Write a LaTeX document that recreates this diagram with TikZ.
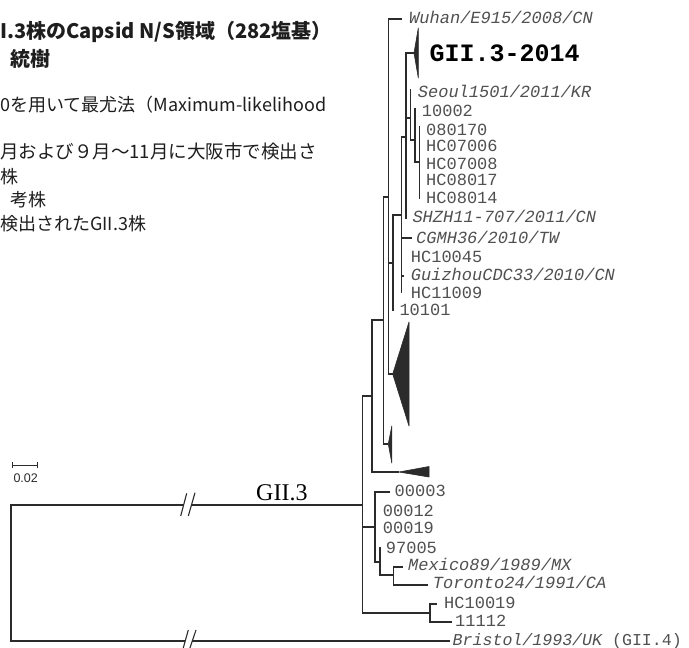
\documentclass[tikz,border=0pt]{standalone}
\usepackage{fontspec}
\setmainfont{Liberation Serif}
\setsansfont{Liberation Sans}
\setmonofont{Liberation Mono}
\newfontfamily\jpfont{Noto Sans CJK JP}
\definecolor{treeline}{HTML}{2B2B2B}
\definecolor{labgray}{HTML}{505050}
\definecolor{headtext}{HTML}{1E1E1E}
\tikzset{
  br/.style={line width=1.2pt, draw=treeline},
  clade/.style={fill=treeline, draw=treeline, line width=0.6pt, line join=round},
  lab/.style={anchor=base west, inner sep=0pt, text=labgray, font=\ttfamily\fontsize{17}{17}\selectfont},
  labit/.style={lab, font=\ttfamily\itshape\fontsize{17}{17}\selectfont},
  jp/.style={anchor=base west, inner sep=0pt, text=headtext, font=\jpfont\fontsize{18}{18}\selectfont},
  jpb/.style={anchor=base west, inner sep=0pt, text=headtext, font=\jpfont\bfseries\fontsize{20}{20}\selectfont},
  brk/.style={line width=1.1pt, draw=treeline},
}
\begin{document}
\begin{tikzpicture}[x=1pt,y=-1pt]
\useasboundingbox[fill=white] (0,0) rectangle (689,648);

% ---------- header text ----------
\node[jpb] (h1) at (0,38.6) {I.3株のCapsid N/S領域（282塩基）};
\node[jpb] (h2) at (10,66.6) {統樹};
\node[jp] (h3) at (0,111.8) {0を用いて最尤法（Maximum-likelihood};
\node[jp, font=\jpfont\fontsize{18.5}{18.5}\selectfont] (h4) at (0,158.5) {月および９月〜11月に大阪市で検出さ};
\node[jp] (h5) at (0,183.5) {株};
\node[jp] (h6) at (10,206.8) {考株};
\node[jp] (h7) at (0,230.8) {検出されたGII.3株};

% ---------- scale bar ----------
\coordinate (sbL) at (12.7,465);
\coordinate (sbR) at (37.3,465);
\draw[line width=0.8pt, draw=treeline] (sbL) -- (sbR);
\draw[line width=0.8pt, draw=treeline] ([yshift=-3pt]sbL) -- ([yshift=3pt]sbL);
\draw[line width=0.8pt, draw=treeline] ([yshift=-3pt]sbR) -- ([yshift=3pt]sbR);
\node[anchor=base west, inner sep=0pt, font=\sffamily\fontsize{12.5}{12.5}\selectfont, text=treeline] (sblab) at (13.3,482) {0.02};

% ---------- internal nodes (x, stem y) ----------
\coordinate (root) at (11,573);
\coordinate (N362) at (362.7,505);
\coordinate (N372) at (372,396);
\coordinate (N383) at (383.3,320);
\coordinate (N388) at (388.3,197);
\coordinate (N393) at (393,263);
\coordinate (N402) at (401.7,215);
\coordinate (N406) at (406,137);
\coordinate (N411) at (410.7,118);
\coordinate (N415) at (415,140);
\coordinate (N419) at (419.3,162);
\coordinate (N375) at (375,527);
\coordinate (N380) at (380,562);
\coordinate (N393b) at (393.3,575);
\coordinate (N430) at (430,613);

% ---------- leaf end points ----------
\coordinate (wuhanE) at (401.7,19);
\coordinate (gApex) at (414,53);
\coordinate (seoulE) at (410.7,89);
\coordinate (l10002E) at (415,108);
\coordinate (l080170E) at (419.3,126);
\coordinate (hc08014E) at (419.3,199);
\coordinate (shzhE) at (406,219);
\coordinate (cgmhE) at (411.7,238);
\coordinate (guizE) at (404,276);
\coordinate (hc11009E) at (401.7,293);
\coordinate (l10101E) at (393,311);
\coordinate (bigApex) at (392.7,374);
\coordinate (smApex) at (388.3,444);
\coordinate (botApex) at (399,472);
\coordinate (l00003E) at (390,492);
\coordinate (l97005E) at (380,547);
\coordinate (mexE) at (403,567);
\coordinate (torE) at (428,585);
\coordinate (hc10019E) at (437,604);
\coordinate (l11112E) at (452,622);
\coordinate (bristolE) at (450,641);

% ---------- branches ----------
\draw[br] (root) |- (N362);
\draw[br] (root) |- (bristolE);
\draw[br] (N362) |- (N372);
\draw[br] (N362) |- (N375);
\draw[br] (N362) |- (N430);
\draw[br] (N372) |- (N383);
\draw[br] (N372) |- (botApex);
\draw[br] (N383) |- (N388);
\draw[br] (N383) |- (smApex);
\draw[br] (N388) |- (wuhanE);
\draw[br] (N388) |- (N393);
\draw[br] (N388) |- (bigApex);
\draw[br] (N393) |- (N402);
\draw[br] (N393) |- (l10101E);
\draw[br] (N402) |- (N406);
\draw[br] (N402) |- (cgmhE);
\draw[br] (N402) |- (guizE);
\draw[br] (N402) |- (hc11009E);
\draw[br] (N406) |- (gApex);
\draw[br] (N406) |- (N411);
\draw[br] (N406) |- (shzhE);
\draw[br] (N411) |- (seoulE);
\draw[br] (N411) |- (N415);
\draw[br] (N415) |- (l10002E);
\draw[br] (N415) |- (N419);
\draw[br] (N419) |- (l080170E);
\draw[br] (N419) |- (hc08014E);
\draw[br] (N375) |- (l00003E);
\draw[br] (N375) |- (N380);
\draw[br] (N380) |- (l97005E);
\draw[br] (N380) |- (N393b);
\draw[br] (N393b) |- (mexE);
\draw[br] (N393b) |- (torE);
\draw[br] (N430) |- (hc10019E);
\draw[br] (N430) |- (l11112E);

% ---------- collapsed clades ----------
\fill[clade] (gApex) -- (418.3,28) -- (418.3,78) -- cycle;
\fill[clade] (bigApex) -- (409,322) -- (409,426) -- cycle;
\fill[clade] (smApex) -- (391.8,426) -- (391.8,463) -- cycle;
\fill[clade] (botApex) -- (429,466.5) -- (429,477) -- cycle;

% ---------- breaks ----------
\fill[white] (180.7,516) -- (186.7,493.3) -- (195,492.7) -- (188.3,516) -- cycle;
\draw[brk] (180.7,516) -- (186.7,493.3);
\draw[brk] (188.3,516) -- (195,492.7);
\fill[white] (182.7,650) -- (188.3,630) -- (196,630) -- (189.3,650) -- cycle;
\draw[brk] (182.7,650) -- (188.3,630);
\draw[brk] (189.3,650) -- (196,630);

\node[anchor=base west, inner sep=0pt, font=\rmfamily\fontsize{24}{24}\selectfont] (gii3) at (256,500.7) {GII.3};

% ---------- labels ----------
\node[labit] (tWuhan) at (409,23.3) {Wuhan/E915/2008/CN};
\node[anchor=base west, inner sep=0pt, font=\ttfamily\bfseries\fontsize{25}{25}\selectfont, text=black] (tG2014) at (429.3,61.7) {GII.3-2014};
\node[labit] (tSeoul) at (417.7,97.3) {Seoul1501/2011/KR};
\node[lab] (t10002) at (421.7,116.7) {10002};
\node[lab] (t080170) at (426,135.7) {080170};
\node[lab] (tHC07006) at (426,151.7) {HC07006};
\node[lab] (tHC07008) at (426,169) {HC07008};
\node[lab] (tHC08017) at (426,185.7) {HC08017};
\node[lab] (tHC08014) at (426,203) {HC08014};
\node[labit] (tSHZH) at (412.3,222.7) {SHZH11-707/2011/CN};
\node[labit] (tCGMH) at (416,243.3) {CGMH36/2010/TW};
\node[lab] (tHC10045) at (410.7,262.7) {HC10045};
\node[labit] (tGuiz) at (410.7,280.7) {GuizhouCDC33/2010/CN};
\node[lab] (tHC11009) at (410.7,298.3) {HC11009};
\node[lab] (t10101) at (399.3,315) {10101};
\node[lab] (t00003) at (394.5,496.7) {00003};
\node[lab] (t00012) at (382.7,516) {00012};
\node[lab] (t00019) at (382.7,533.3) {00019};
\node[lab] (t97005) at (385.7,553.3) {97005};
\node[labit] (tMex) at (408,570.7) {Mexico89/1989/MX};
\node[labit] (tTor) at (432.7,588.3) {Toronto24/1991/CA};
\node[lab] (tHC10019) at (444,608.3) {HC10019};
\node[lab] (t11112) at (455,626.7) {11112};
\node[lab, font=\ttfamily\fontsize{16.6}{16.6}\selectfont] (tBristol) at (452.5,645.5) {\itshape Bristol/1993/UK\upshape{} (GII.4)};
\end{tikzpicture}
\end{document}
